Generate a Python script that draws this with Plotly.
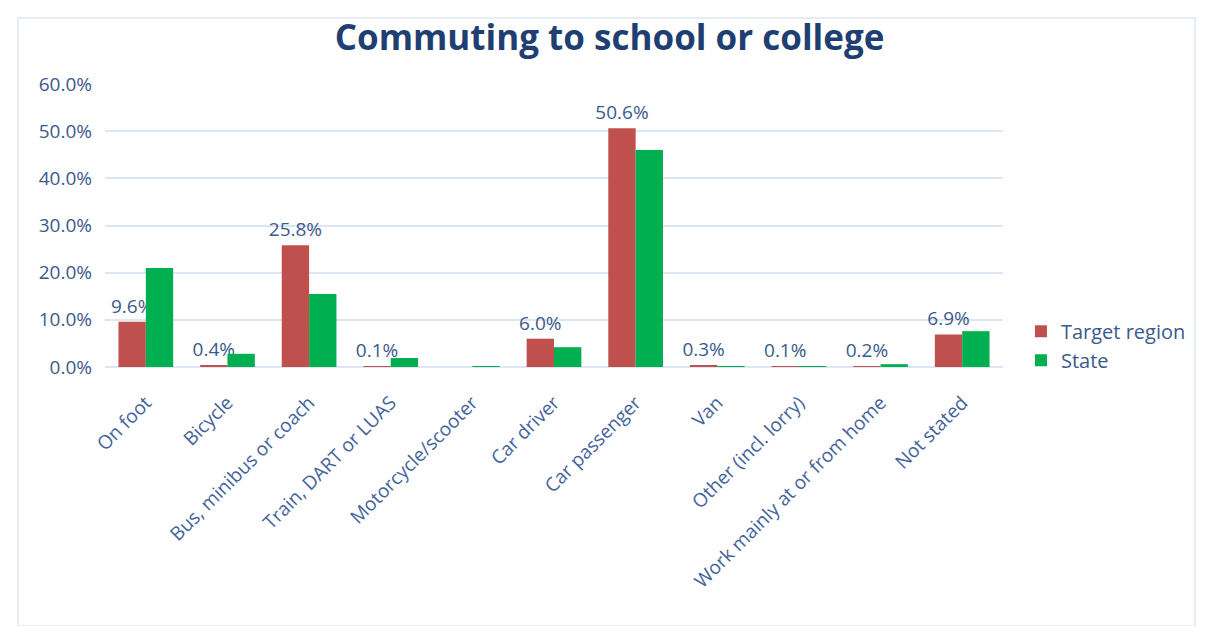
import plotly.graph_objects as go

categories = [
    "On foot", "Bicycle", "Bus, minibus or coach", "Train, DART or LUAS",
    "Motorcycle/scooter", "Car driver", "Car passenger", "Van",
    "Other (incl. lorry)", "Work mainly at or from home", "Not stated",
]
target_region = [9.6, 0.4, 25.8, 0.1, 0.0, 6.0, 50.6, 0.3, 0.1, 0.2, 6.9]
state = [21.0, 2.8, 15.5, 1.9, 0.1, 4.2, 46.0, 0.2, 0.1, 0.6, 7.6]

RED = "#C0504D"
GREEN = "#00B050"
TEXT = "#3B5A8C"
FONT = "Open Sans"

labels = [f"{v:.1f}%" if v > 0 else "" for v in target_region]

fig = go.Figure()
fig.add_trace(go.Bar(
    name="Target region", x=categories, y=target_region,
    marker=dict(color=RED, line=dict(width=0)),
    text=labels, textposition="outside", cliponaxis=False,
    constraintext="none",
    textfont=dict(family=FONT, size=19, color=TEXT),
))
fig.add_trace(go.Bar(
    name="State", x=categories, y=state,
    marker=dict(color=GREEN, line=dict(width=0)),
))

fig.update_layout(
    width=1207, height=626,
    margin=dict(l=105, r=204, t=84, b=259),
    paper_bgcolor="white", plot_bgcolor="white",
    barmode="group", bargap=0.33, bargroupgap=0,
    font=dict(family=FONT, color=TEXT),
    title=dict(
        text="<b>Commuting to school or college</b>",
        x=0.505, xref="container", xanchor="center",
        y=0.94, yref="container", yanchor="middle",
        font=dict(family=FONT, size=35, color="#1F3F73"),
    ),
    legend=dict(
        x=1.02, xanchor="left", y=0.075, yanchor="middle",
        font=dict(family=FONT, size=20, color=TEXT),
        itemwidth=30, tracegroupgap=0,
    ),
    xaxis=dict(
        tickangle=-45, tickfont=dict(family=FONT, size=19, color="#44639A"),
        showgrid=False, showline=False, ticks="", ticklabelstandoff=20,
    ),
    yaxis=dict(
        range=[0, 60], dtick=10, ticksuffix="%", tickformat=".1f",
        tickfont=dict(family=FONT, size=19, color=TEXT),
        gridcolor="#DCE6F4", gridwidth=1.5, zeroline=True,
        zerolinecolor="#DCE6F4", zerolinewidth=1.5, ticks="",
        showline=False, ticklabelstandoff=12,
    ),
    shapes=[dict(
        type="rect", xref="paper", yref="paper",
        x0=-87 / 898, x1=1195 / 898 - 105 / 898,
        y0=-259 / 283, y1=(608 - 259) / 283,
        line=dict(color="#DDE8F5", width=1.5), fillcolor="rgba(0,0,0,0)",
        layer="below",
    )],
)

fig.write_html("out.html")
